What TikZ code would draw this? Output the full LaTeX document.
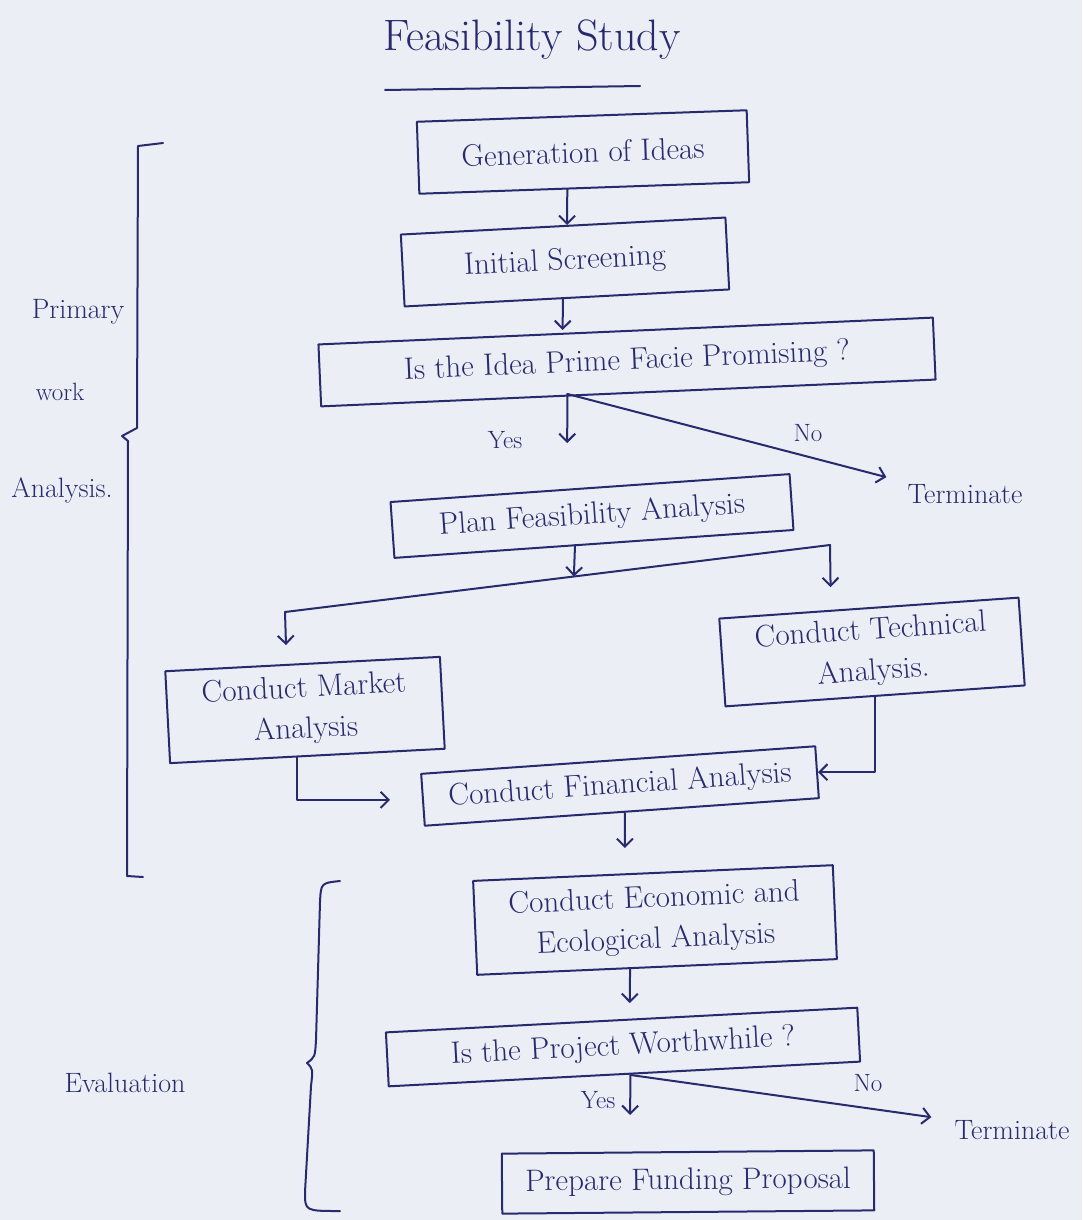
\documentclass[tikz,border=0pt]{standalone}
\usepackage{fontspec}
\usetikzlibrary{arrows.meta,calc}

\definecolor{ink}{RGB}{40,42,110}
\definecolor{paper}{RGB}{236,238,245}

\tikzset{
  pen/.style={draw=ink, line width=2pt, line cap=round, line join=round},
  arr/.style={pen, -{Straight Barb[length=8pt,width=16pt,line width=2pt]}},
  box/.style={pen, text=ink, align=center, inner sep=6pt,
              font=\fontsize{31}{41}\selectfont},
  lbl/.style={text=ink, inner sep=1pt, font=\fontsize{28}{32}\selectfont},
  small/.style={text=ink, inner sep=1pt, font=\fontsize{25}{28}\selectfont},
  ttl/.style={text=ink, inner sep=2pt, font=\fontsize{44}{50}\selectfont},
}

\begin{document}
\begin{tikzpicture}[x=1pt, y=-1pt]
  % sheet
  \fill[paper] (0,0) rectangle (1082,1220);
  \useasboundingbox (0,0) rectangle (1082,1220);

  % heading
  \node[ttl] (title) at (532,40) {Feasibility Study};
  \coordinate (ulA) at (385,90);
  \coordinate (ulB) at (640,86);
  \draw[pen] (ulA) -- (ulB);

  % process boxes
  \node[box, minimum width=330, minimum height=72, rotate=2]   (gen)    at (583,152)  {Generation of Ideas};
  \node[box, minimum width=325, minimum height=72, rotate=3]   (init)   at (565,262)  {Initial Screening};
  \node[box, minimum width=615, minimum height=62, rotate=2.5] (idea)   at (627,362)  {Is the Idea Prime Facie Promising ?};
  \node[box, minimum width=400, minimum height=56, rotate=4]   (plan)   at (592,516)  {Plan Feasibility Analysis};
  \node[box, minimum width=275, minimum height=92, rotate=3]   (market) at (305,710)  {Conduct Market\\Analysis};
  \node[box, minimum width=300, minimum height=88, rotate=4]   (tech)   at (872,652)  {Conduct Technical\\Analysis.};
  \node[box, minimum width=395, minimum height=52, rotate=4]   (fin)    at (620,786)  {Conduct Financial Analysis};
  \node[box, minimum width=360, minimum height=94, rotate=2.5] (econ)   at (655,920)  {Conduct Economic and\\Ecological Analysis};
  \node[box, minimum width=472, minimum height=54, rotate=3]   (worth)  at (623,1047) {Is the Project Worthwhile ?};
  \node[box, minimum width=372, minimum height=60, rotate=0.5] (fund)   at (688,1182) {Prepare Funding Proposal};

  % outcome labels
  \node[lbl] (term1) at (965,494)  {Terminate};
  \node[lbl] (term2) at (1012,1130) {Terminate};
  \node[small] (yes1l) at (505,440)  {Yes};
  \node[small] (no1l)  at (808,433)  {No};
  \node[small] (yes2l) at (598,1100) {Yes};
  \node[small] (no2l)  at (868,1083) {No};

  % stage labels
  \node[lbl] (prim) at (78,312)  {Primary};
  \node[small] (work) at (60,392) {work};
  \node[lbl] (anal) at (62,490)  {Analysis.};
  \node[lbl] (eval) at (125,1083) {Evaluation};

  % flow
  \draw[arr] ([xshift=-17]gen.south) -- ([xshift=4]init.north);
  \draw[arr] ([xshift=-4]init.south) -- ([xshift=-63]idea.north);

  \coordinate (yes1) at ([xshift=-61]idea.south);
  \draw[arr, shorten >=44pt] (yes1) -- ([xshift=-23]plan.north);
  \draw[arr] (yes1) -- ([xshift=-20,yshift=6]term1.north west);

  % split towards market and technical analysis
  \coordinate (splitL) at (285,612);
  \coordinate (splitR) at (830,545);
  \coordinate (splitM) at ($(splitL)!0.53!(splitR)$);
  \draw[arr] ([xshift=-19]plan.south) -- (splitM);
  \draw[pen] (splitL) -- (splitR);
  \draw[arr, shorten >=20pt] (splitR) -- ([xshift=-38]tech.north);
  \draw[arr, shorten >=18pt] (splitL) -- ([xshift=-16]market.north);

  % merge into financial analysis
  \draw[arr, shorten >=32pt] ([xshift=-10]market.south) |- (fin.west);
  \draw[arr] (tech.south) |- (fin.east);

  \draw[arr, shorten >=24pt] ([xshift=3]fin.south) -- ([xshift=-28]econ.north);
  \draw[arr, shorten >=16pt] ([xshift=-27]econ.south) -- ([xshift=8]worth.north);

  \coordinate (yes2) at ([xshift=6]worth.south);
  \draw[arr, shorten >=36pt] (yes2) -- ([xshift=-58]fund.north);
  \draw[arr] (yes2) -- ([xshift=-22,yshift=2]term2.north west);

  % stage brackets
  \draw[pen] (163,143) -- (138,146) -- (137,428) -- (122,436) -- (128,441) -- (127,876) -- (143,877);
  \draw[pen] (340,881) .. controls (321,883) .. (320,902) -- (316,1040)
             .. controls (315,1057) .. (307,1063) .. controls (313,1069) .. (311,1086)
             -- (305,1192) .. controls (305,1211) .. (340,1211);
\end{tikzpicture}
\end{document}
